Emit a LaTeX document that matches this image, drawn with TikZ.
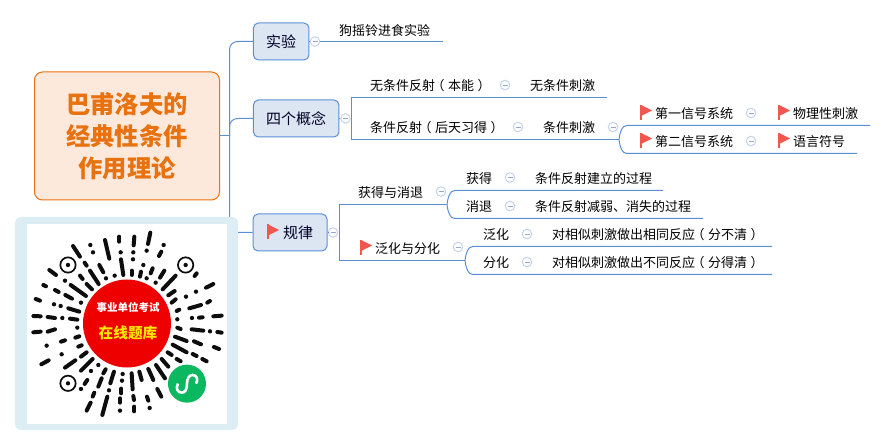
\documentclass[tikz,border=0pt]{standalone}
\usepackage{fontspec}
\setmainfont{Noto Sans CJK SC}
\usetikzlibrary{positioning}
\definecolor{linkblue}{HTML}{5B8FD5}
\definecolor{boxblue}{HTML}{DCE6F3}
\definecolor{rootfill}{HTML}{FDE9DC}
\definecolor{rootline}{HTML}{E8720F}
\definecolor{foldline}{HTML}{C6D3EC}
\definecolor{foldmark}{HTML}{9AA8C8}
\definecolor{flagred}{HTML}{F2574F}
\definecolor{cardblue}{HTML}{DCEDF3}
\definecolor{sealred}{HTML}{EE0000}
\definecolor{sealyellow}{HTML}{FFE600}
\definecolor{appgreen}{HTML}{0BB85F}
\newcommand{\openpar}{\kern-3.5pt（\kern3.5pt}
\newcommand{\closepar}{\kern3.5pt）\kern-3.5pt}
\tikzstyle{rootbox} = [rectangle, rounded corners=8pt, line width=1pt, minimum width=185pt, minimum height=128pt, text centered, align=center, draw=rootline, fill=rootfill, text=rootline, font=\fontsize{24.3}{32}\selectfont\bfseries]
\tikzstyle{mainbox} = [rectangle, rounded corners=5pt, line width=1pt, minimum height=37pt, inner sep=0pt, text centered, draw=linkblue, fill=boxblue, text=black!85!blue, font=\fontsize{15}{18}\selectfont]
\tikzstyle{leaf} = [inner sep=0pt, font=\fontsize{13}{15}\selectfont, anchor=west]
\tikzstyle{fold} = [circle, draw=foldline, line width=1pt, fill=white, minimum size=9.5pt, inner sep=0pt, path picture={\draw[foldmark, line width=0.7pt] ([xshift=-2.5pt]path picture bounding box.center) -- ([xshift=2.5pt]path picture bounding box.center);}]
\tikzstyle{branch} = [linkblue, line width=1pt]
\tikzstyle{bar} = [line width=4pt, line cap=round, black!95]
\tikzset{redflag/.pic={
    \fill[flagred] (0,0) rectangle (2,15);
    \fill[flagred] (1,0) -- (12,5.5) -- (1,11) -- cycle;
}}
\begin{document}
\begin{tikzpicture}[x=1pt,y=-1pt]
        \useasboundingbox (0,0) rectangle (886,446);
        \node (root) [rootbox] at (127,136) {巴甫洛夫的\\经典性条件\\作用理论};
        \node (exp) [mainbox, minimum width=55.5pt] at (281.2,41.5) {实验};
        \node (concepts) [mainbox, minimum width=85.5pt] at (296.2,118.5) {四个概念};
        \node (laws) [mainbox, minimum width=74pt] at (290,232.5) {\hspace{16pt}规律};
        \pic at (267,224.5) {redflag};

        % fold marks next to the boxes
        \node (expFold) [fold] at (315,41.5) {};
        \node (conceptsFold) [fold] at (345.5,118.5) {};
        \node (lawsFold) [fold] at (333,232.5) {};

        % texts of the first level
        \node (bell) [leaf] at (339,30.5) {狗摇铃进食实验};
        \node (uncond) [leaf] at (370,85.5) {无条件反射\openpar 本能\closepar};
        \node (uncondFold) [fold] at (505,85) {};
        \node (uncondStim) [leaf] at (530,85.5) {无条件刺激};
        \node (cond) [leaf] at (370,127.5) {条件反射\openpar 后天习得\closepar};
        \node (condFold) [fold] at (518,127) {};
        \node (condStim) [leaf] at (543,127.5) {条件刺激};
        \node (condStimFold) [fold] at (613,127) {};

        \pic at (640,105) {redflag};
        \node (signalOne) [leaf] at (655,113.5) {第一信号系统};
        \node (signalOneFold) [fold] at (751,113) {};
        \pic at (778,105) {redflag};
        \node (physical) [leaf] at (793,113.5) {物理性刺激};
        \pic at (640,133) {redflag};
        \node (signalTwo) [leaf] at (655,141.5) {第二信号系统};
        \node (signalTwoFold) [fold] at (751,141) {};
        \pic at (778,133) {redflag};
        \node (language) [leaf] at (793,141.5) {语言符号};

        \node (gain) [leaf] at (358,192.5) {获得与消退};
        \node (gainFold) [fold] at (441,191.5) {};
        \node (acquire) [leaf] at (466,178.5) {获得};
        \node (acquireFold) [fold] at (510,177.5) {};
        \node (acquireText) [leaf] at (535,178.5) {条件反射建立的过程};
        \node (fade) [leaf] at (466,206.5) {消退};
        \node (fadeFold) [fold] at (510,206) {};
        \node (fadeText) [leaf] at (535,206.5) {条件反射减弱、消失的过程};

        \pic at (360,240) {redflag};
        \node (spread) [leaf] at (375,248.5) {泛化与分化};
        \node (spreadFold) [fold] at (458,247) {};
        \node (general) [leaf] at (483,234.5) {泛化};
        \node (generalFold) [fold] at (527,234) {};
        \node (generalText) [leaf] at (552,234.5) {对相似刺激做出相同反应\openpar 分不清\closepar};
        \node (differ) [leaf] at (483,262.5) {分化};
        \node (differFold) [fold] at (527,262) {};
        \node (differText) [leaf] at (552,262.5) {对相似刺激做出不同反应\openpar 分得清\closepar};

        % free ends of the branches
        \coordinate (rootJoin) at (229.5,136);
        \coordinate (bellEnd) at (443,41.5);
        \coordinate (uncondCorner) at (351.5,97.5);
        \coordinate (uncondEnd) at (607,97.5);
        \coordinate (condCorner) at (351.5,139.5);
        \coordinate (condEnd) at (619,139.5);
        \coordinate (physicalStart) at (627,125.5);
        \coordinate (physicalEnd) at (870,125.5);
        \coordinate (languageStart) at (627,153.5);
        \coordinate (languageEnd) at (857,153.5);
        \coordinate (gainCorner) at (339.5,204.5);
        \coordinate (gainEnd) at (447,204.5);
        \coordinate (acquireStart) at (455,190.5);
        \coordinate (acquireEnd) at (663,190.5);
        \coordinate (fadeStart) at (455,218.5);
        \coordinate (fadeEnd) at (703,218.5);
        \coordinate (spreadCorner) at (339.5,260.5);
        \coordinate (spreadEnd) at (465,260.5);
        \coordinate (generalStart) at (473,246.5);
        \coordinate (generalEnd) at (772,246.5);
        \coordinate (differStart) at (473,274.5);
        \coordinate (differEnd) at (772,274.5);

        \draw [branch] (root.east) -- (rootJoin);
        \draw [branch, rounded corners=8pt] (rootJoin) |- (exp.west);
        \draw [branch, rounded corners=8pt] (rootJoin) |- (concepts.west);
        \draw [branch, rounded corners=8pt] (rootJoin) |- (laws.west);
        \draw [branch] (exp.east) -- (expFold);
        \draw [branch] (expFold) -- (bellEnd);
        \draw [branch] (concepts.east) -- (conceptsFold);
        \draw [branch] (uncondEnd) -- (uncondCorner) -- (condCorner) -- (condEnd);
        \draw [branch] (condEnd) .. controls +(1,-8) and +(-5,0) .. (physicalStart) -- (physicalEnd);
        \draw [branch] (condEnd) .. controls +(1,8) and +(-5,0) .. (languageStart) -- (languageEnd);
        \draw [branch] (laws.east) -- (lawsFold);
        \draw [branch] (gainEnd) -- (gainCorner) -- (spreadCorner) -- (spreadEnd);
        \draw [branch] (gainEnd) .. controls +(1,-8) and +(-5,0) .. (acquireStart) -- (acquireEnd);
        \draw [branch] (gainEnd) .. controls +(1,8) and +(-5,0) .. (fadeStart) -- (fadeEnd);
        \draw [branch] (spreadEnd) .. controls +(1,-8) and +(-5,0) .. (generalStart) -- (generalEnd);
        \draw [branch] (spreadEnd) .. controls +(1,8) and +(-5,0) .. (differStart) -- (differEnd);

        % card with the code
        \fill[cardblue, rounded corners=6pt] (15,217) rectangle (238,430);
        \fill[white] (27,224) rectangle (227,424);
        \begin{scope}[shift={(0,210)},x=0.3333pt,y=-0.3333pt]
            \foreach \xa/\ya/\xb/\yb in {451/68/444/102, 403/80/401/106, 358/80/358/95, 315/90/328/146, 219/108/240/140, 484/125/477/138, 363/148/370/195, 254/158/260/167, 298/165/310/187, 148/180/168/195, 270/182/296/222, 240/197/248/207, 395/182/395/195, 423/185/420/200, 458/175/452/190, 493/182/480/203, 527/197/488/238, 590/190/584/198, 640/222/618/233, 130/225/138/229, 212/225/258/258, 260/222/276/238, 165/240/176/246, 196/255/216/266, 524/243/505/256, 107/267/120/272, 205/295/238/305, 527/268/515/278, 630/273/622/278, 568/295/603/285, 530/303/538/299, 100/318/122/319, 143/321/165/324, 210/326/232/329, 597/323/608/322, 640/319/665/317, 100/367/122/365, 143/365/165/358, 532/353/542/357, 575/358/610/362, 652/366/665/368, 183/395/195/391, 226/383/238/379, 525/380/560/393, 582/394/603/403, 235/410/245/406, 518/404/560/427, 642/411/657/417, 243/440/260/427, 503/427/515/435, 578/432/590/438, 607/447/620/454, 124/463/146/451, 195/473/226/451, 243/482/278/447, 485/447/505/470, 530/447/542/454, 317/478/310/490, 342/485/331/520, 395/490/398/538, 418/485/425/510, 445/477/460/510, 468/465/495/505, 262/510/254/522, 305/505/295/530, 364/536/364/550, 283/548/278/560, 472/537/484/560, 400/558/402/570, 441/560/445/572, 360/565/360/578, 322/560/307/615, 272/578/260/602, 403/590/403/604}
                \draw[bar] (\xa,\ya) -- (\xb,\yb);
            \foreach \xa/\ya in {271/105, 279/127, 491/105, 440/122, 400/127, 362/127, 399/148, 430/165, 195/212, 318/205, 344/197, 440/205, 467/218, 243/278, 588/245, 558/260, 162/283, 182/288, 187/324, 532/328, 576/324, 232/353, 630/364, 140/407, 185/433, 295/465, 273/483, 368/492, 243/537, 327/541, 366/512, 360/602, 449/594}
                \fill[black!95] (\xa,\ya) circle (6.5);
            \foreach \xa/\ya in {204/165, 557/165, 204/520}{
                \draw[black!95, line width=1.7pt] (\xa,\ya) circle (23);
                \fill[black!95] (\xa,\ya) circle (6.5);
            }
            \fill[appgreen] (561,521) circle (57);
            \draw[white, line width=2.6pt] (534,521) .. controls (526,535) and (533,548) .. (545,548) .. controls (556,548) and (561,538) .. (561,521) .. controls (561,505) and (568,495) .. (578,495) .. controls (590,495) and (596,508) .. (588,521);
        \end{scope}
        \node (seal) [circle, fill=sealred, minimum size=88pt, inner sep=0pt] at (127,323.5) {};
        \node (sealTop) [text=white, inner sep=0pt, font=\fontsize{10.5}{12}\selectfont\bfseries] at (128,307.5) {事业单位考试};
        \node (sealBottom) [text=sealyellow, inner sep=0pt, font=\fontsize{14.7}{17}\selectfont\bfseries] at (128,333) {在线题库};
    \end{tikzpicture}
\end{document}
